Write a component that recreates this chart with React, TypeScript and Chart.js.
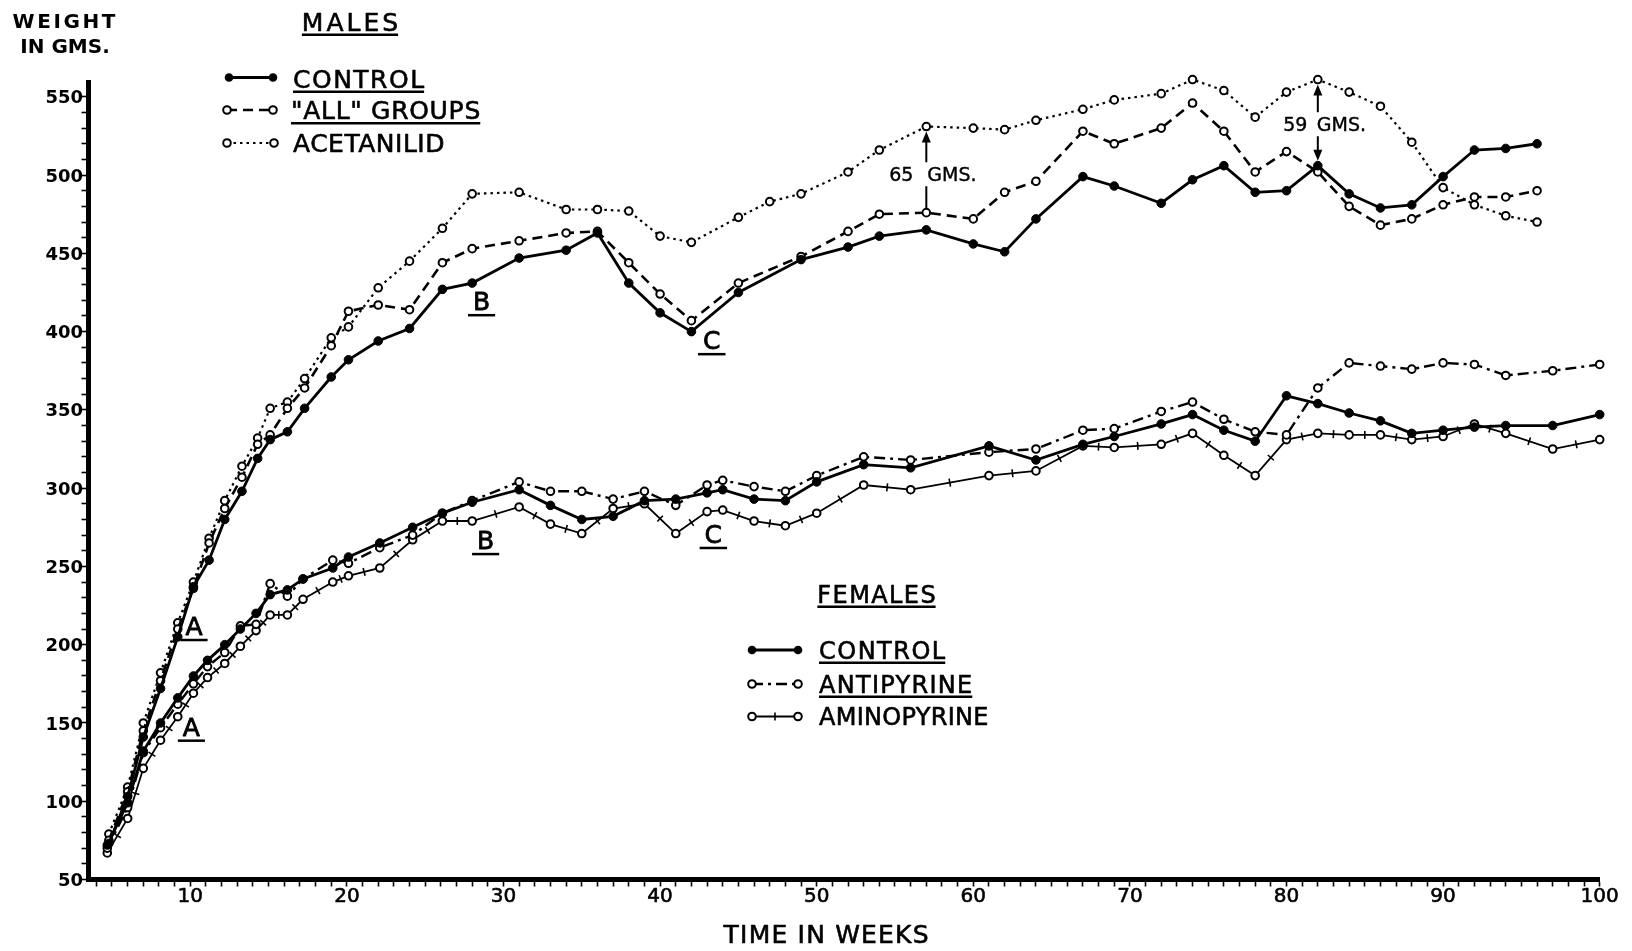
import React, { useEffect, useRef } from "react";
import { Chart, registerables } from "chart.js";

Chart.register(...registerables);

// ---------------- data ----------------
const maleWeeks = [4.8, 6, 7, 8.1, 9.2, 10.2, 11.2, 12.2, 13.3, 14.3, 15.1, 16.2, 17.3, 19, 20.1, 22, 24, 26.1, 28, 31, 34, 36, 38, 40, 42, 45, 47, 49, 52, 54, 57, 60, 62, 64, 67, 69, 72, 74, 76, 78, 80, 82, 84, 86, 88, 90, 92, 94, 96];
const maleControl = [73, 103, 141, 172, 205, 237, 254, 280, 298, 319, 331, 336, 351, 371, 382, 394, 402, 427, 431, 447, 452, 463, 431, 412, 400, 425, null, 446, 454, 461, 465, 456, 451, 472, 499, 493, 482, 497, 506, 489, 490, 506, 488, 479, 481, 499, 516, 517, 520];
const maleAllGroups = [75, 106, 145, 177, 210, 236, 265, 287, 307, 328, 334, 351, 364, 391, 413, 417, 414, 444, 453, 458, 463, 464, 444, 424, 407, 431, null, 448, 464, 475, 476, 472, 489, 496, 528, 520, 530, 546, 528, 502, 515, 502, 480, 468, 472, 481, 486, 486, 490];
const maleAcetanilid = [79, 109, 150, 182, 214, 240, 268, 292, 314, 332, 351, 355, 370, 396, 403, 428, 445, 466, 488, 489, 478, 478, 477, 461, 457, 473, 483, 488, 502, 516, 531, 530, 529, 535, 542, 548, 552, 561, 554, 537, 553, 561, 553, 544, 521, 492, 481, 474, 470];

const femaleWeeks = [4.7, 6, 7, 8.1, 9.2, 10.2, 11.1, 12.2, 13.2, 14.2, 15.1, 16.2, 17.2, 19.1, 20.1, 22.1, 24.2, 26.1, 28, 31, 33, 35, 37, 39, 41, 43, 44, 46, 48, 50, 53, 56, 61, 64, 67, 69, 72, 74, 76, 78, 80, 82, 84, 86, 88, 90, 92, 94, 97, 100];
const femaleControl = [72, 99, 132, 150, 166, 180, 190, 200, 210, 220, 232, 235, 242, 249, 256, 265, 275, 284, 291, 299, 289, 280, 282, 292, 293, 297, 299, 293, 292, 304, 315, 313, 327, 318, 328, 333, 341, 347, 337, 330, 359, 354, 348, 343, 335, 337, 339, 340, 340, 347];
const femaleAntipyrine = [70, 96, 131, 147, 162, 175, 186, 195, 212, 213, 239, 231, 242, 254, 252, 262, 270, 284, 292, 304, 298, 298, 293, 298, 289, 302, 305, 301, 298, 308, 320, 318, 323, 325, 337, 338, 349, 355, 344, 336, 334, 364, 380, 378, 376, 380, 379, 372, 375, 379];
const femaleAminopyrine = [67, 89, 121, 139, 154, 169, 179, 188, 199, 209, 219, 219, 229, 240, 244, 249, 267, 279, 279, 288, 277, 271, 287, 290, 271, 285, 286, 279, 276, 284, 302, 299, 308, 311, 327, 326, 328, 335, 321, 308, 331, 335, 334, 334, 331, 333, 341, 335, 325, 331];

const yTickLabels = [50, 100, 150, 200, 250, 300, 350, 400, 450, 500, 550];
const xTickLabels = [10, 20, 30, 40, 50, 60, 70, 80, 90, 100];

// ---------------- styles ----------------
const FONT = '"DejaVu Sans", "Liberation Sans", Arial, sans-serif';
type Style = { dash: number[]; width: number; filled: boolean; cross?: boolean };
const ST: Record<string, Style> = {
  control: { dash: [], width: 2.8, filled: true },
  all: { dash: [10, 6], width: 2.6, filled: false },
  acet: { dash: [2.5, 4], width: 2.2, filled: false },
  anti: { dash: [11, 5, 3, 5], width: 2.4, filled: false },
  amino: { dash: [], width: 1.8, filled: false, cross: true },
};

function toPoints(weeks: number[], values: (number | null)[]) {
  const out: { x: number; y: number }[] = [];
  weeks.forEach((w, i) => {
    const v = values[i];
    if (v != null) out.push({ x: w, y: v });
  });
  return out;
}

function dataset(label: string, weeks: number[], values: (number | null)[], st: Style) {
  return {
    label,
    data: toPoints(weeks, values),
    borderColor: "#000",
    borderWidth: st.width,
    borderDash: st.dash,
    borderCapStyle: "butt",
    tension: 0,
    fill: false,
    clip: false,
    pointRadius: st.filled ? 4.3 : 3.8,
    pointHoverRadius: st.filled ? 4.3 : 3.8,
    pointBorderWidth: st.filled ? 1 : 2,
    pointBackgroundColor: st.filled ? "#000" : "#fff",
    pointBorderColor: "#000",
  };
}

function drawText(ctx: any, text: string, x: number, cy: number, o: any = {}) {
  const size = o.size ?? 24;
  const weight = o.weight ?? "normal";
  const sp = o.spacing ?? 0;
  ctx.save();
  ctx.font = `${weight} ${size}px ${FONT}`;
  ctx.letterSpacing = `${sp}px`;
  ctx.fillStyle = "#000";
  ctx.strokeStyle = "#000";
  ctx.textAlign = "left";
  ctx.textBaseline = "alphabetic";
  const w = ctx.measureText(text).width - sp;
  let left = x;
  if (o.align === "center") left = x - w / 2;
  else if (o.align === "right") left = x - w;
  const base = cy + size * 0.365;
  ctx.fillText(text, left, base);
  if (o.heavy) {
    ctx.lineWidth = o.heavy;
    ctx.lineJoin = "round";
    ctx.strokeText(text, left, base);
  }
  if (o.underline != null) {
    const ext = o.ulExtra ?? 0;
    ctx.lineWidth = 2.5;
    ctx.beginPath();
    ctx.moveTo(left - ext, base + o.underline);
    ctx.lineTo(left + w + ext, base + o.underline);
    ctx.stroke();
  }
  ctx.restore();
}

function marker(ctx: any, x: number, y: number, filled: boolean) {
  ctx.save();
  ctx.beginPath();
  ctx.arc(x, y, filled ? 4.3 : 3.8, 0, Math.PI * 2);
  if (filled) {
    ctx.fillStyle = "#000";
    ctx.fill();
  } else {
    ctx.fillStyle = "#fff";
    ctx.fill();
    ctx.lineWidth = 2;
    ctx.strokeStyle = "#000";
    ctx.stroke();
  }
  ctx.restore();
}

function legendSample(ctx: any, x1: number, x2: number, y: number, st: Style) {
  ctx.save();
  ctx.strokeStyle = "#000";
  ctx.lineWidth = st.width;
  ctx.setLineDash(st.dash);
  ctx.beginPath();
  ctx.moveTo(x1, y);
  ctx.lineTo(x2, y);
  ctx.stroke();
  ctx.setLineDash([]);
  if (st.cross) {
    ctx.lineWidth = 1.6;
    const m = (x1 + x2) / 2;
    ctx.beginPath();
    ctx.moveTo(m, y - 4);
    ctx.lineTo(m, y + 4);
    ctx.stroke();
  }
  ctx.restore();
  marker(ctx, x1, y, st.filled);
  marker(ctx, x2, y, st.filled);
}

function arrowHead(ctx: any, x: number, y: number, dir: number) {
  ctx.beginPath();
  ctx.moveTo(x, y);
  ctx.lineTo(x - 4.5, y - dir * 11);
  ctx.lineTo(x + 4.5, y - dir * 11);
  ctx.closePath();
  ctx.fill();
}

const extras = {
  id: "figureExtras",
  afterDatasetsDraw(chart: any) {
    const ctx = chart.ctx;
    chart.data.datasets.forEach((d: any, i: number) => {
      if (!d.crossTicks) return;
      const pts = chart.getDatasetMeta(i).data;
      ctx.save();
      ctx.strokeStyle = "#000";
      ctx.lineWidth = 1.6;
      for (let k = 0; k < pts.length - 1; k++) {
        const a = pts[k], b = pts[k + 1];
        const dx = b.x - a.x, dy = b.y - a.y;
        const len = Math.hypot(dx, dy);
        if (len < 16) continue;
        const mx = (a.x + b.x) / 2, my = (a.y + b.y) / 2;
        const nx = (-dy / len) * 4, ny = (dx / len) * 4;
        ctx.beginPath();
        ctx.moveTo(mx - nx, my - ny);
        ctx.lineTo(mx + nx, my + ny);
        ctx.stroke();
      }
      ctx.restore();
    });
  },
  afterDraw(chart: any) {
    const ctx = chart.ctx;
    const xs = chart.scales.x;
    const ys = chart.scales.y;
    const H = 0.6;

    // axis tick labels
    yTickLabels.forEach((v) => drawText(ctx, String(v), 83, ys.getPixelForValue(v), { size: 18, weight: "bold", align: "right" }));
    xTickLabels.forEach((v) => drawText(ctx, String(v), xs.getPixelForValue(v), 895, { size: 20, align: "center", heavy: H }));
    drawText(ctx, "TIME IN WEEKS", xs.getPixelForValue(50.6), 934, { size: 25, align: "center", spacing: 1.2, heavy: H });

    // y title
    drawText(ctx, "WEIGHT", 64, 21, { size: 20, weight: "bold", align: "center", spacing: 2.6 });
    drawText(ctx, "IN GMS.", 65, 45.5, { size: 20, weight: "bold", align: "center" });

    // males legend
    drawText(ctx, "MALES", 350, 21.5, { size: 25, align: "center", spacing: 3, underline: 4, heavy: H });
    legendSample(ctx, 229, 273, 77.5, ST.control);
    legendSample(ctx, 227, 273, 110, ST.all);
    legendSample(ctx, 227, 274, 143, ST.acet);
    drawText(ctx, "CONTROL", 293, 78.5, { size: 25, spacing: 1.5, underline: 4, heavy: H });
    drawText(ctx, '"ALL" GROUPS', 291, 110, { size: 25, spacing: 0.7, underline: 4, heavy: H });
    drawText(ctx, "ACETANILID", 293, 143, { size: 25, spacing: 0.5, heavy: H });

    // females legend
    drawText(ctx, "FEMALES", 876.5, 594, { size: 24, align: "center", spacing: 1.4, underline: 4, heavy: H });
    legendSample(ctx, 752, 798, 650, ST.control);
    legendSample(ctx, 752, 798, 684, ST.anti);
    legendSample(ctx, 752, 798, 716.5, ST.amino);
    drawText(ctx, "CONTROL", 819, 650, { size: 24, spacing: 1.5, underline: 4, heavy: H });
    drawText(ctx, "ANTIPYRINE", 819, 684, { size: 24, spacing: 1.3, underline: 4, heavy: H });
    drawText(ctx, "AMINOPYRINE", 819, 716.5, { size: 24, spacing: 0.3, heavy: H });

    // phase letters
    const letters = [
      { t: "A", wk: 10.24, v: 212 },
      { t: "A", wk: 10.07, v: 147.7 },
      { t: "B", wk: 28.6, v: 419.5 },
      { t: "B", wk: 28.86, v: 266.9 },
      { t: "C", wk: 43.3, v: 394.6 },
      { t: "C", wk: 43.4, v: 270.8 },
    ];
    letters.forEach((l) =>
      drawText(ctx, l.t, xs.getPixelForValue(l.wk), ys.getPixelForValue(l.v), { size: 25, align: "center", underline: 5, ulExtra: 5, heavy: 0.8 })
    );

    // 65 GMS arrow (week 57, ALL GROUPS -> ACETANILID)
    ctx.save();
    ctx.strokeStyle = "#000";
    ctx.fillStyle = "#000";
    ctx.lineWidth = 2;
    {
      const i = maleWeeks.indexOf(57);
      const x = xs.getPixelForValue(57);
      const yLow = ys.getPixelForValue(maleAllGroups[i] as number) - 4;
      const yTip = ys.getPixelForValue(maleAcetanilid[i] as number) + 5;
      const cy = ys.getPixelForValue(500.5);
      ctx.beginPath();
      ctx.moveTo(x, yLow);
      ctx.lineTo(x, cy + 12);
      ctx.moveTo(x, cy - 12);
      ctx.lineTo(x, yTip + 8);
      ctx.stroke();
      arrowHead(ctx, x, yTip, -1);
      drawText(ctx, "65", x - 13, cy, { size: 19, align: "right", heavy: 0.4 });
      drawText(ctx, "GMS.", x + 1, cy, { size: 19, heavy: 0.4 });
    }
    // 59 GMS arrow (week 82, CONTROL <-> ACETANILID)
    {
      const i = maleWeeks.indexOf(82);
      const x = xs.getPixelForValue(82);
      const yTop = ys.getPixelForValue(maleAcetanilid[i] as number) + 5;
      const yBot = ys.getPixelForValue(maleControl[i] as number) - 5;
      const cy = ys.getPixelForValue(532.5);
      ctx.beginPath();
      ctx.moveTo(x, yTop + 8);
      ctx.lineTo(x, cy - 12);
      ctx.moveTo(x, cy + 12);
      ctx.lineTo(x, yBot - 8);
      ctx.stroke();
      arrowHead(ctx, x, yTop, -1);
      arrowHead(ctx, x, yBot, 1);
      drawText(ctx, "59", x - 10.5, cy, { size: 19, align: "right", heavy: 0.4 });
      drawText(ctx, "GMS.", x - 1, cy, { size: 19, heavy: 0.4 });
    }
    ctx.restore();
  },
};

export default function App() {
  const ref = useRef<HTMLCanvasElement | null>(null);
  useEffect(() => {
    const prev = document.body.style.margin;
    document.body.style.margin = "0";
    const canvas = ref.current as HTMLCanvasElement;
    const amino: any = dataset("Females: Aminopyrine", femaleWeeks, femaleAminopyrine, ST.amino);
    amino.crossTicks = true;
    const chart = new Chart(canvas, {
      type: "line",
      data: {
        datasets: [
          dataset("Males: Control", maleWeeks, maleControl, ST.control),
          dataset('Males: "All" groups', maleWeeks, maleAllGroups, ST.all),
          dataset("Males: Acetanilid", maleWeeks, maleAcetanilid, ST.acet),
          dataset("Females: Control", femaleWeeks, femaleControl, ST.control),
          dataset("Females: Antipyrine", femaleWeeks, femaleAntipyrine, ST.anti),
          amino,
        ] as any,
      },
      options: {
        responsive: false,
        maintainAspectRatio: false,
        animation: false,
        layout: { padding: { top: 82.7, right: 32.3, left: 0, bottom: 0 } },
        plugins: { legend: { display: false }, tooltip: { enabled: false }, title: { display: false } },
        scales: {
          x: {
            type: "linear",
            min: 3.5,
            max: 100,
            border: { display: true, width: 5, color: "#000" },
            grid: { display: true, drawOnChartArea: false, drawTicks: true, tickLength: 7, tickWidth: 1.6, tickColor: "#000" },
            ticks: { stepSize: 1, maxTicksLimit: 1000, autoSkip: false, includeBounds: false, maxRotation: 0, minRotation: 0, padding: 0, callback: () => "" },
            afterFit: (s: any) => {
              s.height = 71.5;
            },
          },
          y: {
            type: "linear",
            min: 50,
            max: 559,
            border: { display: true, width: 5, color: "#000" },
            grid: { display: true, drawOnChartArea: false, drawTicks: true, tickLength: 7, tickWidth: 1.6, tickColor: "#000" },
            ticks: { stepSize: 10, maxTicksLimit: 1000, autoSkip: false, includeBounds: false, padding: 0, callback: () => "" },
            afterFit: (s: any) => {
              s.width = 88.5;
            },
          },
        },
      } as any,
      plugins: [extras as any],
    });
    return () => {
      chart.destroy();
      document.body.style.margin = prev;
    };
  }, []);
  return (
    <div style={{ position: "fixed", left: 0, top: 0, width: 1632, height: 951, background: "#fff" }}>
      <canvas ref={ref} width={1632} height={951} style={{ display: "block", width: 1632, height: 951 }} />
    </div>
  );
}
